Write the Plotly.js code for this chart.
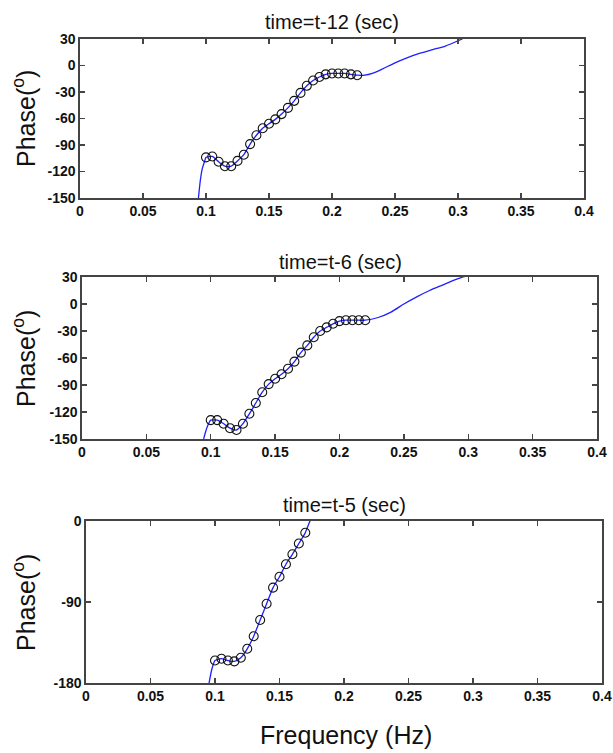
<!DOCTYPE html>
<html>
<head>
<meta charset="utf-8">
<script src="https://cdn.plot.ly/plotly-3.0.1.min.js"></script>
<style>html,body{margin:0;padding:0;background:#fff;}#chart{width:613px;height:753px;}</style>
</head>
<body>
<div id="chart"></div>
<script>
// ---- Data ----
const titles = ["time=t-12 (sec)", "time=t-6 (sec)", "time=t-5 (sec)"];
const xTickVals = [0, 0.05, 0.1, 0.15, 0.2, 0.25, 0.3, 0.35, 0.4];
const xTickText = ["0", "0.05", "0.1", "0.15", "0.2", "0.25", "0.3", "0.35", "0.4"];
const yTicks1 = [30, 0, -30, -60, -90, -120, -150];
const yTicks2 = [30, 0, -30, -60, -90, -120, -150];
const yTicks3 = [0, -90, -180];

// panel 1 (t-12): continuous phase curve
const lineX1 = [0.094, 0.0955, 0.097, 0.099, 0.100, 0.105, 0.110, 0.115, 0.120, 0.125, 0.130, 0.135, 0.140, 0.145, 0.150, 0.155, 0.160, 0.165, 0.170, 0.175, 0.180, 0.185, 0.190, 0.195, 0.200, 0.205, 0.210, 0.215, 0.220, 0.226, 0.232, 0.240, 0.250, 0.260, 0.270, 0.280, 0.290, 0.300, 0.306];
const lineY1 = [-150, -130, -117, -108, -104, -103, -109, -114, -114, -108, -101, -89, -79, -71, -66, -61, -55, -48, -40, -31, -23, -17, -13, -10, -9, -9, -9, -10, -11, -11, -9, -4, 3, 9, 14, 18, 22, 28, 32];
// panel 1 markers
const markX1 = [0.100, 0.105, 0.110, 0.115, 0.120, 0.125, 0.130, 0.135, 0.140, 0.145, 0.150, 0.155, 0.160, 0.165, 0.170, 0.175, 0.180, 0.185, 0.190, 0.195, 0.200, 0.205, 0.210, 0.215, 0.220];
const markY1 = [-104, -103, -109, -114, -114, -108, -101, -89, -79, -71, -66, -61, -55, -48, -40, -31, -23, -17, -13, -10, -9, -9, -9, -10, -11];

// panel 2 (t-6)
const lineX2 = [0.0945, 0.096, 0.098, 0.100, 0.105, 0.110, 0.115, 0.120, 0.125, 0.130, 0.135, 0.140, 0.145, 0.150, 0.155, 0.160, 0.165, 0.170, 0.175, 0.180, 0.185, 0.190, 0.195, 0.200, 0.205, 0.210, 0.215, 0.220, 0.230, 0.240, 0.250, 0.260, 0.270, 0.280, 0.290, 0.296, 0.302];
const lineY2 = [-150, -142, -134, -129, -129, -133, -138, -140, -133, -122, -110, -98, -89, -83, -78, -72, -64, -54, -46, -37, -30, -26, -22, -19, -18, -18, -18, -18, -15, -9, 0, 8, 15, 21, 27, 30, 33];
const markX2 = [0.100, 0.105, 0.110, 0.115, 0.120, 0.125, 0.130, 0.135, 0.140, 0.145, 0.150, 0.155, 0.160, 0.165, 0.170, 0.175, 0.180, 0.185, 0.190, 0.195, 0.200, 0.205, 0.210, 0.215, 0.220];
const markY2 = [-129, -129, -133, -138, -140, -133, -122, -110, -98, -89, -83, -78, -72, -64, -54, -46, -37, -30, -26, -22, -19, -18, -18, -18, -18];

// panel 3 (t-5)
const lineX3 = [0.0954, 0.0975, 0.100, 0.105, 0.110, 0.115, 0.120, 0.125, 0.130, 0.135, 0.140, 0.145, 0.150, 0.155, 0.160, 0.165, 0.170, 0.1736, 0.176];
const lineY3 = [-180, -165, -155, -153, -155, -156, -152, -142, -128, -110, -92, -74, -62, -48, -37, -25, -13, 0, 8];
const markX3 = [0.100, 0.105, 0.110, 0.115, 0.120, 0.125, 0.130, 0.135, 0.140, 0.145, 0.150, 0.155, 0.160, 0.165, 0.170];
const markY3 = [-155, -153, -155, -156, -152, -142, -128, -110, -92, -74, -62, -48, -37, -25, -13];

// ---- Styling ----
const W = 613, H = 753;
const blue = '#1f1fff';
function lineTrace(x, y, n) {
  return {x: x, y: y, xaxis: 'x' + (n === 1 ? '' : n), yaxis: 'y' + (n === 1 ? '' : n),
    mode: 'lines', line: {color: blue, width: 1.3, shape: 'spline', smoothing: 0.6}, hoverinfo: 'skip', showlegend: false};
}
function markTrace(x, y, n) {
  return {x: x, y: y, xaxis: 'x' + (n === 1 ? '' : n), yaxis: 'y' + (n === 1 ? '' : n),
    mode: 'markers', marker: {symbol: 'circle-open', size: 9, color: '#111', line: {width: 1.1, color: '#111'}},
    hoverinfo: 'skip', showlegend: false};
}
const tickFont = {family: 'Liberation Sans Narrow, Liberation Sans, Arial, sans-serif', size: 14, color: '#111', weight: 'bold'};
function xax(d, anchor) {
  return {domain: d, anchor: anchor, range: [0, 0.4], tickvals: xTickVals, ticktext: xTickText,
    ticks: 'inside', ticklen: 5, tickwidth: 1.3, tickcolor: '#444', mirror: 'ticks', showline: true,
    linecolor: '#444', linewidth: 1.6, showgrid: false, zeroline: false, tickfont: tickFont, fixedrange: true};
}
function yax(d, anchor, rng, tv) {
  return {domain: d, anchor: anchor, range: rng, tickvals: tv, ticktext: tv.map(String),
    ticks: 'inside', ticklen: 5, tickwidth: 1.3, tickcolor: '#444', mirror: 'ticks', showline: true,
    linecolor: '#444', linewidth: 1.6, showgrid: false, zeroline: false, tickfont: tickFont, fixedrange: true};
}
const px = v => v / W, py = v => 1 - v / H;

const layout = {
  width: W, height: H, margin: {l: 0, r: 0, t: 0, b: 0}, paper_bgcolor: '#fff', plot_bgcolor: '#fff',
  showlegend: false,
  xaxis: xax([px(80), px(584)], 'y'),
  yaxis: yax([py(198), py(39)], 'x', [-150, 30], yTicks1),
  xaxis2: xax([px(82), px(597)], 'y2'),
  yaxis2: yax([py(439), py(277)], 'x2', [-150, 30], yTicks2),
  xaxis3: xax([px(86), px(602)], 'y3'),
  yaxis3: yax([py(683), py(521)], 'x3', [-180, 0], yTicks3),
  annotations: []
};
const titleFont = {family: 'Liberation Sans, Arial, sans-serif', size: 20, color: '#111'};
const bigFont = {family: 'Liberation Sans, Arial, sans-serif', size: 25, color: '#111'};
const panelTitle = [[332, 22], [340, 262], [344, 505]];
const yLab = [[24, 118], [24, 358], [24, 602]];
titles.forEach((t, i) => {
  layout.annotations.push({text: t, x: px(panelTitle[i][0]), y: py(panelTitle[i][1]), xref: 'paper', yref: 'paper',
    xanchor: 'center', yanchor: 'middle', showarrow: false, font: titleFont});
  layout.annotations.push({text: 'Phase(<sup>o</sup>)', x: px(yLab[i][0]), y: py(yLab[i][1]), xref: 'paper', yref: 'paper',
    xanchor: 'center', yanchor: 'middle', textangle: -90, showarrow: false, font: bigFont});
});
layout.annotations.push({text: 'Frequency (Hz)', x: px(346), y: py(735), xref: 'paper', yref: 'paper',
  xanchor: 'center', yanchor: 'middle', showarrow: false, font: bigFont});

const data = [
  lineTrace(lineX1, lineY1, 1), markTrace(markX1, markY1, 1),
  lineTrace(lineX2, lineY2, 2), markTrace(markX2, markY2, 2),
  lineTrace(lineX3, lineY3, 3), markTrace(markX3, markY3, 3)
];
Plotly.newPlot('chart', data, layout, {staticPlot: true, displayModeBar: false});
</script>
</body>
</html>
